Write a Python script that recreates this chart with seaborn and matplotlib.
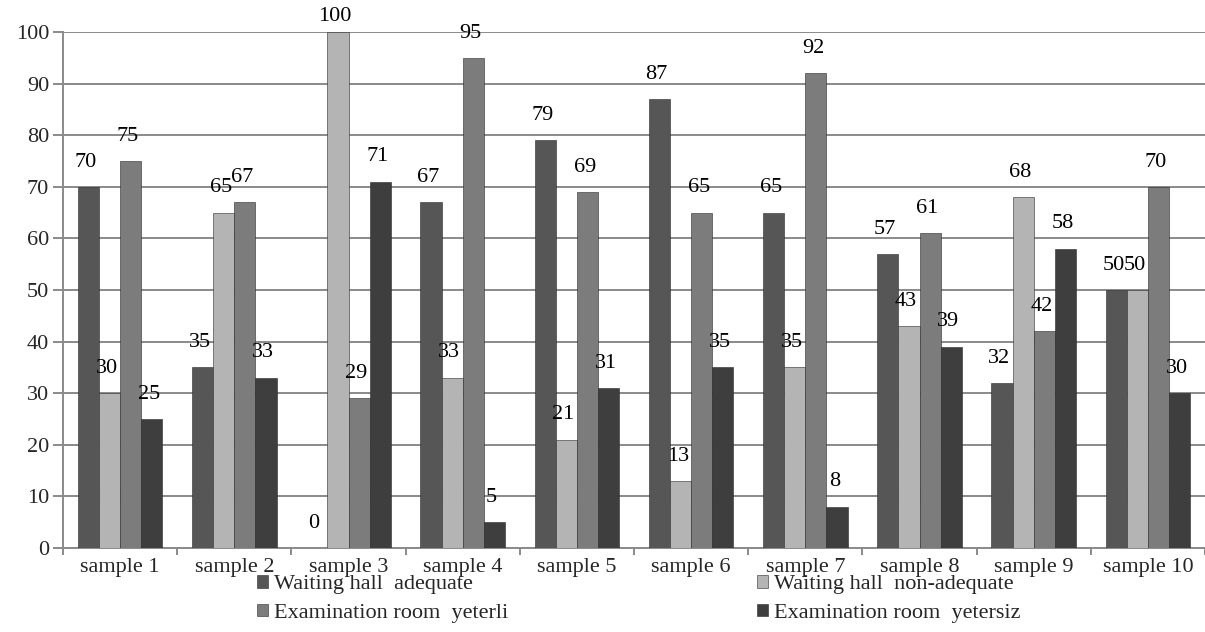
import pandas as pd
import matplotlib.pyplot as plt
import seaborn as sns
import numpy as np

samples = [f"sample {i}" for i in range(1, 11)]
series_names = [
    "Waiting hall  adequate",
    "Waiting hall  non-adequate",
    "Examination room  yeterli",
    "Examination room  yetersiz",
]
hall_adequate = [70, 35, 0, 67, 79, 87, 65, 57, 32, 50]
hall_non_adequate = [30, 65, 100, 33, 21, 13, 35, 43, 68, 50]
room_yeterli = [75, 67, 29, 95, 69, 65, 92, 61, 42, 70]
room_yetersiz = [25, 33, 71, 5, 31, 35, 8, 39, 58, 30]

bar_colors = ["#565656", "#b4b4b4", "#7c7c7c", "#3e3e3e"]

df = pd.DataFrame(
    {
        "sample": samples * 4,
        "series": np.repeat(series_names, len(samples)),
        "value": hall_adequate + hall_non_adequate + room_yeterli + room_yetersiz,
    }
)

sns.set_theme(style="white")
plt.rcParams["font.family"] = ["Liberation Serif", "DejaVu Serif"]
plt.rcParams["font.size"] = 16

fig = plt.figure(figsize=(12.05, 6.32), dpi=100)
ax = fig.add_axes([63 / 1205, 1 - 548 / 632, 1 - 63 / 1205, (548 - 32) / 632])

sns.barplot(
    data=df,
    x="sample",
    y="value",
    hue="series",
    hue_order=series_names,
    palette=bar_colors,
    width=0.74,
    gap=0,
    saturation=1,
    ax=ax,
    legend=True,
    edgecolor="#2a2a2a",
    linewidth=0.4,
    zorder=3,
)

for cont in ax.containers:
    anns = ax.bar_label(cont, labels=[f"{v:.0f}" for v in cont.datavalues],
                        padding=11, fontsize=16, color="black")
    # keep labels of the tallest bars inside the figure
    for ann, v in zip(anns, cont.datavalues):
        ann.xyann = (-2, 11 if v < 97 else 4)

ax.set_ylim(0, 100)
ax.set_xlim(-0.5, 9.5)
ax.set_yticks(range(0, 101, 10))
ax.yaxis.grid(True, color="#8a8a8a", linewidth=1.4, zorder=0)
ax.set_axisbelow(True)
ax.set_xlabel("")
ax.set_ylabel("")

# Excel-like ticks: category ticks between groups
ax.set_xticks(np.arange(-0.5, 10, 1.0), minor=True)
ax.tick_params(axis="x", which="major", length=0, labelsize=16, pad=7)
ax.tick_params(axis="x", which="minor", length=5, color="#8a8a8a", width=1.4,
               direction="out", bottom=True)
ax.tick_params(axis="y", length=7, color="#8a8a8a", width=1.4,
               direction="out", left=True, labelsize=16, pad=3)

for side in ["top", "right"]:
    ax.spines[side].set_visible(False)
for side in ["left", "bottom"]:
    ax.spines[side].set_color("#8a8a8a")
    ax.spines[side].set_linewidth(1.4)

handles, labels = ax.get_legend_handles_labels()
ax.legend_.remove()

leg_kw = dict(
    loc="upper left",
    frameon=False,
    fontsize=16,
    handlelength=0.5,
    handleheight=0.5,
    handletextpad=0.25,
    labelspacing=0.42,
    borderaxespad=0,
    borderpad=0,
)
fig.legend([handles[0], handles[2]], [labels[0], labels[2]],
           bbox_to_anchor=(257 / 1205, 1 - 575 / 632), **leg_kw)
fig.legend([handles[1], handles[3]], [labels[1], labels[3]],
           bbox_to_anchor=(757 / 1205, 1 - 575 / 632), **leg_kw)

fig.savefig("out.png", dpi=100)
